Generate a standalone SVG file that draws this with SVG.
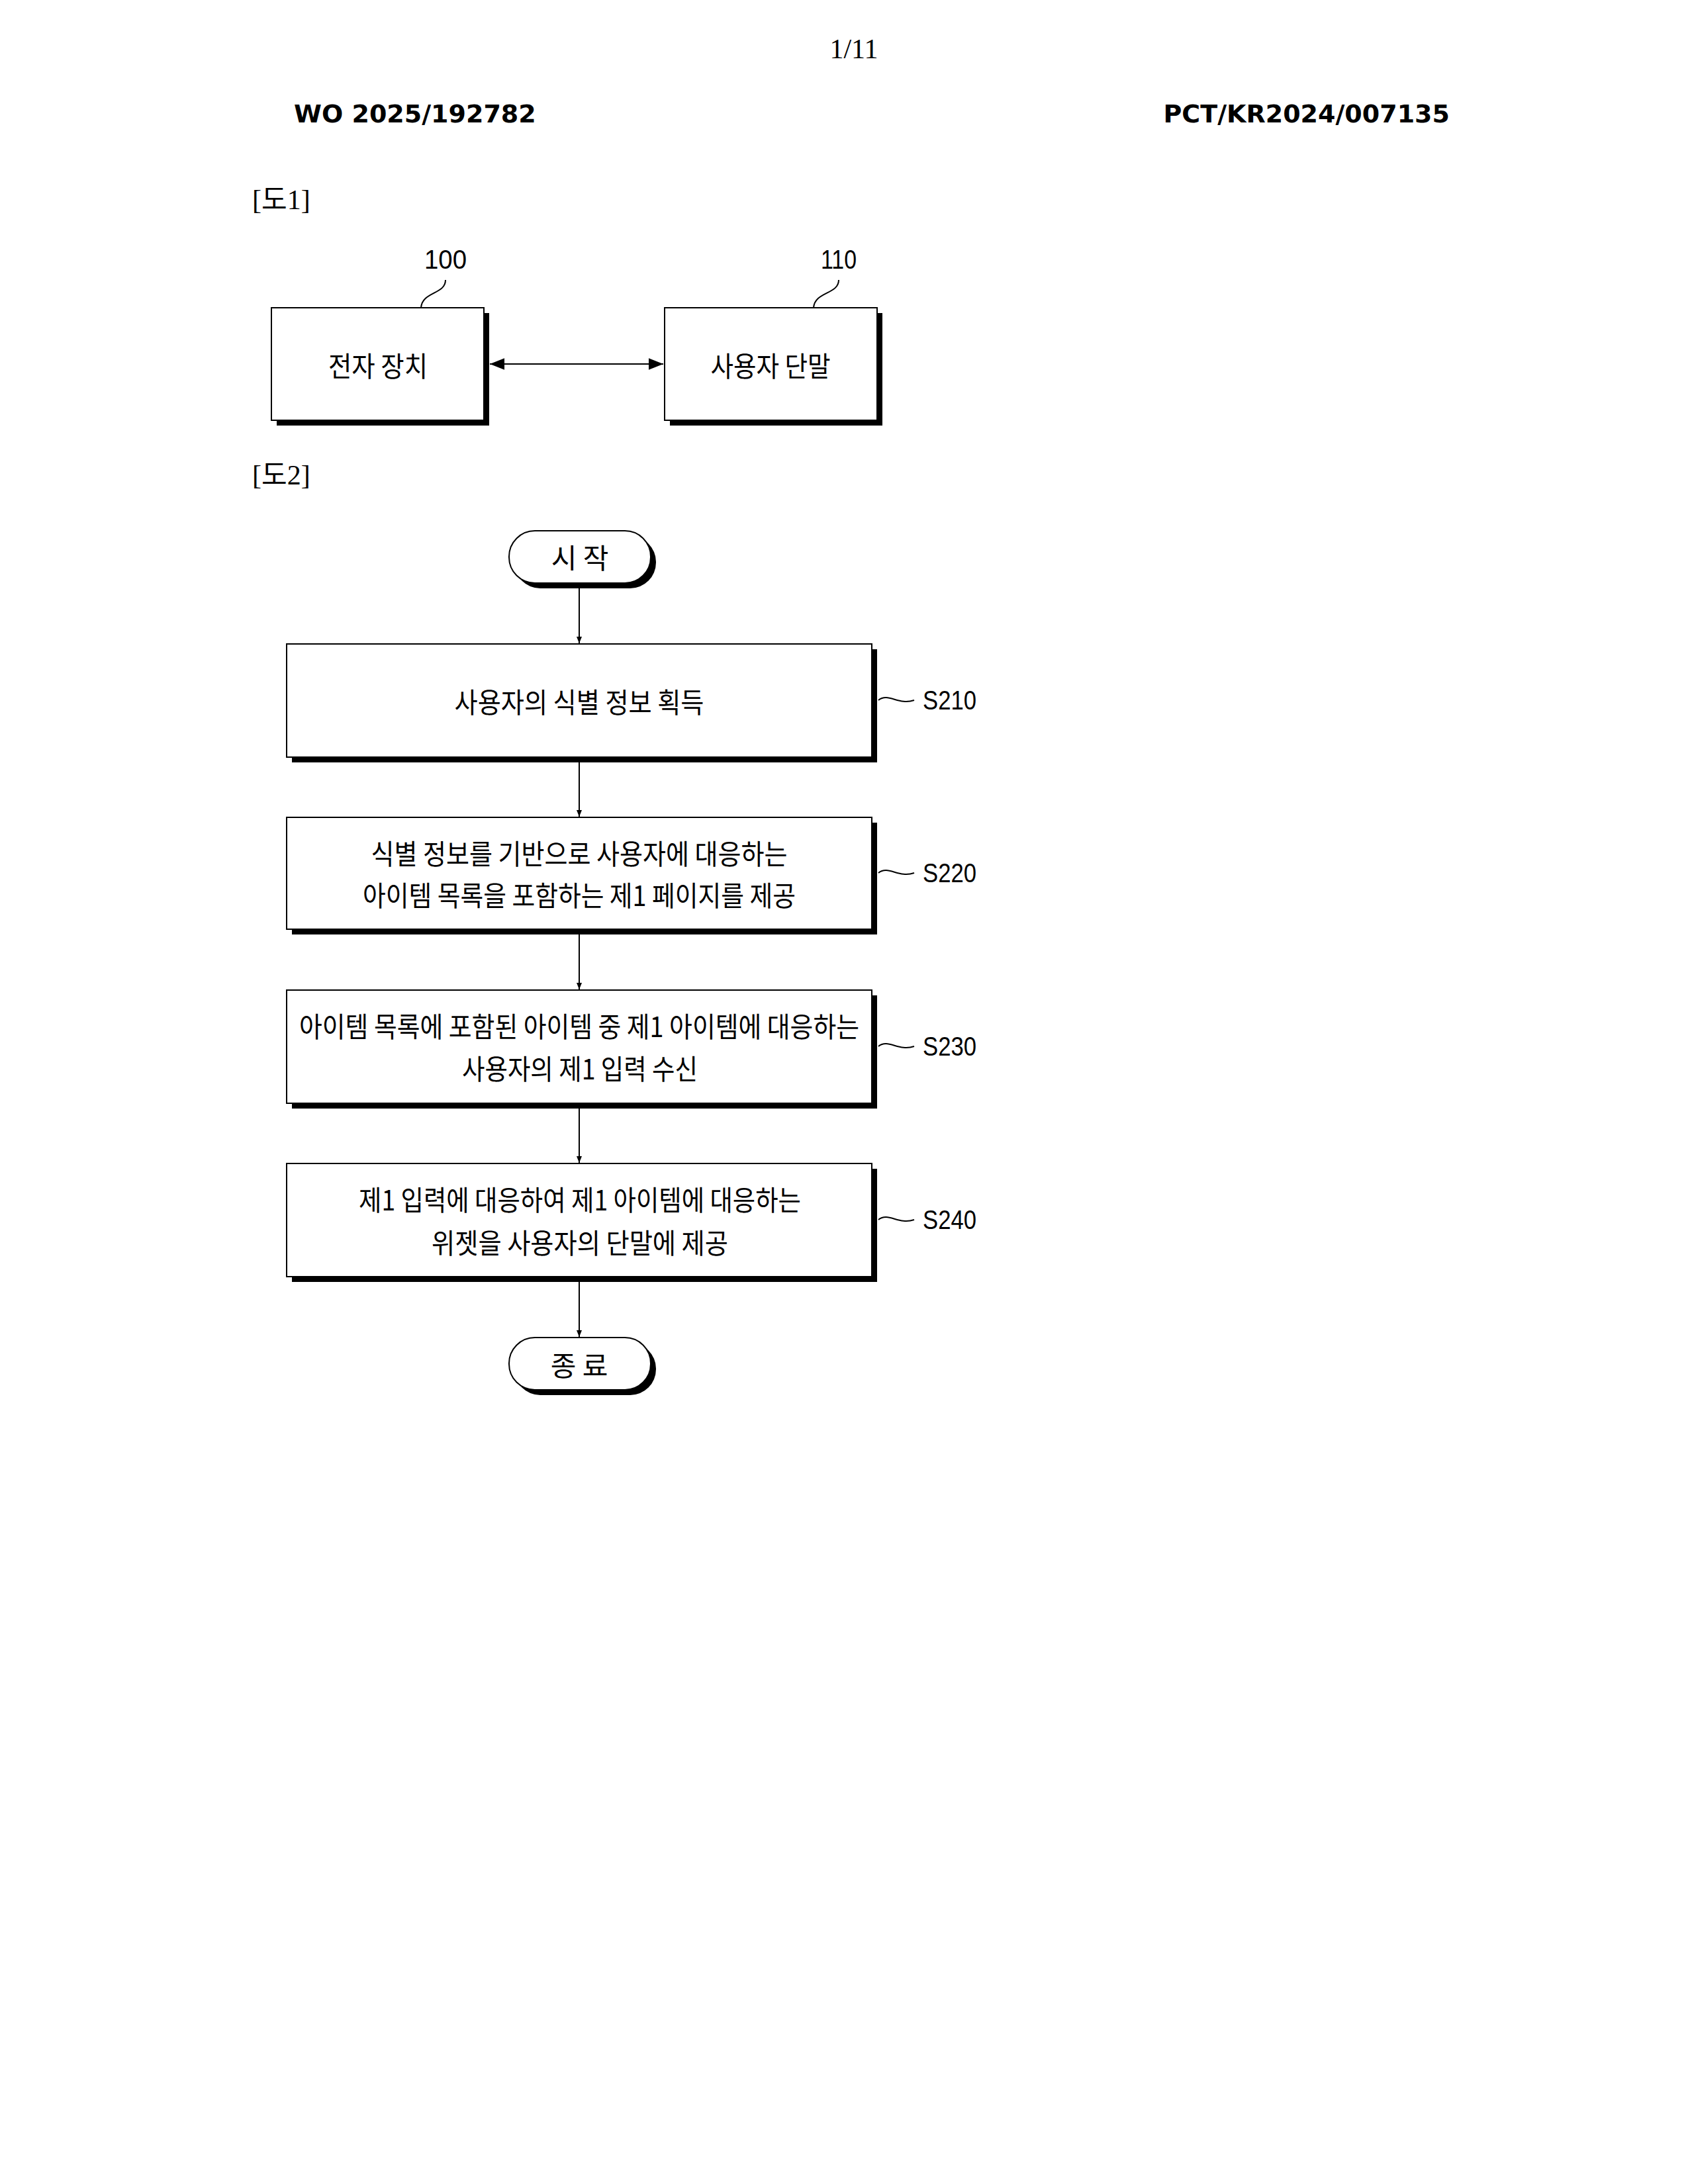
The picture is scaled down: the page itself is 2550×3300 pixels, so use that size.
<svg xmlns="http://www.w3.org/2000/svg" width="2550" height="3300" viewBox="0 0 2550 3300">
<style>
.t{font-family:"Noto Sans CJK KR","Liberation Sans",sans-serif;font-size:42px;fill:#000;text-anchor:middle;dominant-baseline:central}
.s{font-family:"Liberation Sans Narrow","Liberation Sans",sans-serif;font-size:40px;fill:#000;dominant-baseline:central}
.h{font-family:"DejaVu Sans",sans-serif;font-weight:bold;font-size:38px;fill:#000}
.f{font-family:"Liberation Serif","Noto Sans CJK KR",serif;font-size:42px;fill:#000}
.box{fill:#fff;stroke:#000;stroke-width:2}
.sh{fill:#000}
.ln{stroke:#000;stroke-width:2;fill:none}
</style>
<defs>
<marker id="a" viewBox="0 0 10 10" refX="10" refY="5" markerWidth="10" markerHeight="10" markerUnits="userSpaceOnUse" orient="auto-start-reverse"><path d="M0,1 L10,5 L0,9 z" fill="#000"/></marker>
<marker id="b" viewBox="0 0 10 10" refX="10" refY="5" markerWidth="22" markerHeight="22" markerUnits="userSpaceOnUse" orient="auto-start-reverse"><path d="M0,1 L10,5 L0,9 z" fill="#000"/></marker>
</defs>
<rect width="2550" height="3300" fill="#fff"/>
<text x="1290" y="88" class="f" font-size="36" text-anchor="middle">1/11</text>
<text x="444" y="185" class="h">WO 2025/192782</text>
<text x="2190" y="185" class="h" text-anchor="end">PCT/KR2024/007135</text>
<text x="381" y="316" class="f">[도1]</text>
<text x="381" y="732" class="f">[도2]</text>

<g id="n100">
<rect x="418" y="473" width="321" height="170" class="sh"/>
<rect x="410" y="465" width="321" height="170" class="box"/>
<text x="571" y="550" class="t" textLength="150" lengthAdjust="spacingAndGlyphs">전자 장치</text>
<path d="M636,465 C638,440 673,445 673,423" class="ln"/>
<text x="673" y="392" class="s" text-anchor="middle" textLength="64" lengthAdjust="spacingAndGlyphs">100</text>
</g>
<g id="n110">
<rect x="1012" y="473" width="321" height="170" class="sh"/>
<rect x="1004" y="465" width="321" height="170" class="box"/>
<text x="1164" y="550" class="t" textLength="181" lengthAdjust="spacingAndGlyphs">사용자 단말</text>
<path d="M1229,465 C1231,440 1267,445 1267,423" class="ln"/>
<text x="1267" y="392" class="s" text-anchor="middle" textLength="54" lengthAdjust="spacingAndGlyphs">110</text>
</g>

<g id="start">
<rect x="777" y="810" width="214" height="79" rx="39" class="sh"/>
<rect x="769" y="802" width="214" height="79" rx="39" class="box"/>
<text x="876" y="840" class="t">시 작</text>
</g>
<g id="S210">
<rect x="441" y="981" width="884" height="171" class="sh"/>
<rect x="433" y="973" width="884" height="171" class="box"/>
<text x="875" y="1058" class="t" textLength="377" lengthAdjust="spacingAndGlyphs">사용자의 식별 정보 획득</text>
<path d="M1327,1058 c15,-12 30,8 54,0" class="ln"/>
<text x="1394" y="1058" class="s" textLength="81" lengthAdjust="spacingAndGlyphs">S210</text>
</g>
<g id="S220">
<rect x="441" y="1243" width="884" height="169" class="sh"/>
<rect x="433" y="1235" width="884" height="169" class="box"/>
<text x="875" y="1287" class="t" textLength="629" lengthAdjust="spacingAndGlyphs">식별 정보를 기반으로 사용자에 대응하는</text>
<text x="875" y="1350" class="t" textLength="654" lengthAdjust="spacingAndGlyphs">아이템 목록을 포함하는 제1 페이지를 제공</text>
<path d="M1327,1319 c15,-12 30,8 54,0" class="ln"/>
<text x="1394" y="1319" class="s" textLength="81" lengthAdjust="spacingAndGlyphs">S220</text>
</g>
<g id="S230">
<rect x="441" y="1504" width="884" height="171" class="sh"/>
<rect x="433" y="1496" width="884" height="171" class="box"/>
<text x="875" y="1548" class="t" textLength="846" lengthAdjust="spacingAndGlyphs">아이템 목록에 포함된 아이템 중 제1 아이템에 대응하는</text>
<text x="876" y="1612" class="t" textLength="356" lengthAdjust="spacingAndGlyphs">사용자의 제1 입력 수신</text>
<path d="M1327,1581 c15,-12 30,8 54,0" class="ln"/>
<text x="1394" y="1581" class="s" textLength="81" lengthAdjust="spacingAndGlyphs">S230</text>
</g>
<g id="S240">
<rect x="441" y="1766" width="884" height="171" class="sh"/>
<rect x="433" y="1758" width="884" height="171" class="box"/>
<text x="876" y="1810" class="t" textLength="668" lengthAdjust="spacingAndGlyphs">제1 입력에 대응하여 제1 아이템에 대응하는</text>
<text x="876" y="1875" class="t" textLength="448" lengthAdjust="spacingAndGlyphs">위젯을 사용자의 단말에 제공</text>
<path d="M1327,1843 c15,-12 30,8 54,0" class="ln"/>
<text x="1394" y="1843" class="s" textLength="81" lengthAdjust="spacingAndGlyphs">S240</text>
</g>
<g id="end">
<rect x="777" y="2029" width="214" height="79" rx="39" class="sh"/>
<rect x="769" y="2021" width="214" height="79" rx="39" class="box"/>
<text x="875" y="2060" class="t">종 료</text>
</g>

<g id="connectors">
<line x1="740" y1="550" x2="1002" y2="550" class="ln" marker-start="url(#b)" marker-end="url(#b)"/>
<line x1="875" y1="889" x2="875" y2="972" class="ln" stroke-width="1.5" marker-end="url(#a)"/>
<line x1="875" y1="1152" x2="875" y2="1234" class="ln" stroke-width="1.5" marker-end="url(#a)"/>
<line x1="875" y1="1412" x2="875" y2="1495" class="ln" stroke-width="1.5" marker-end="url(#a)"/>
<line x1="875" y1="1675" x2="875" y2="1757" class="ln" stroke-width="1.5" marker-end="url(#a)"/>
<line x1="875" y1="1937" x2="875" y2="2020" class="ln" stroke-width="1.5" marker-end="url(#a)"/>
</g>
</svg>
